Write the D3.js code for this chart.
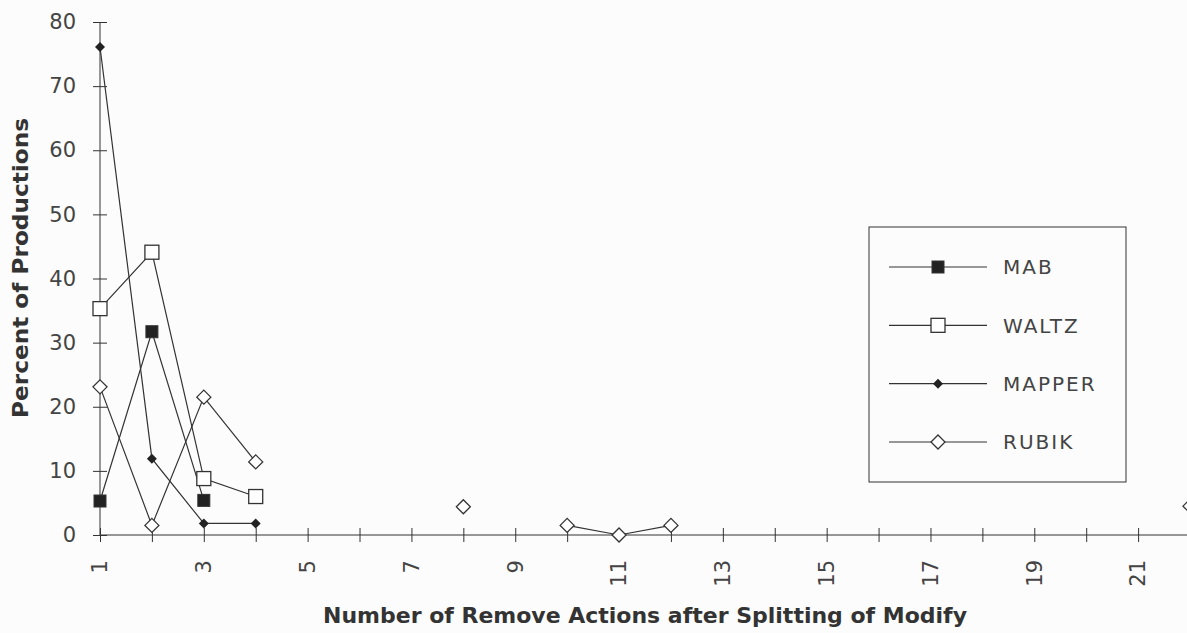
<!DOCTYPE html>
<html>
<head>
<meta charset="utf-8">
<script src="https://cdn.jsdelivr.net/npm/d3@7"></script>
<style>
  body { margin: 0; background: #fcfcfc; }
  svg { display: block; font-family: "DejaVu Sans", sans-serif; }
</style>
</head>
<body>
<svg id="chart" width="1187" height="633"></svg>
<script>
// x categories (number of remove actions)
var xValues = [1, 2, 3, 4, 5, 6, 7, 8, 9, 10, 11, 12, 13, 14, 15, 16, 17, 18, 19, 20, 21, 22];
var xLabels = [1, 3, 5, 7, 9, 11, 13, 15, 17, 19, 21];
var yTicks = [0, 10, 20, 30, 40, 50, 60, 70, 80];

// percent of productions, null = no point
var mab    = [5.3, 31.7, 5.4, null, null, null, null, null, null, null, null, null, null, null, null, null, null, null, null, null, null, null];
var waltz  = [35.3, 44.1, 8.8, 6.0, null, null, null, null, null, null, null, null, null, null, null, null, null, null, null, null, null, null];
var mapper = [76.1, 11.9, 1.8, 1.8, null, null, null, null, null, null, null, null, null, null, null, null, null, null, null, null, null, null];
var rubik  = [23.1, 1.5, 21.5, 11.4, null, null, null, 4.4, null, 1.5, 0, 1.5, null, null, null, null, null, null, null, null, null, 4.5];

var seriesNames = ["MAB", "WALTZ", "MAPPER", "RUBIK"];
var seriesValues = [mab, waltz, mapper, rubik];

var ink = "#333";
var svg = d3.select("#chart");

var x = d3.scaleLinear().domain([1, 22]).range([100, 1190]);
var y = d3.scaleLinear().domain([0, 80]).range([535, 22]);

// axes
var xAxis = svg.append("g")
    .attr("transform", "translate(0," + y(0) + ")")
    .call(d3.axisBottom(x).tickValues(xValues).tickSize(7).tickFormat(""));
xAxis.select(".domain").attr("d", "M" + x(1) + ",0H1187");
xAxis.selectAll(".tick line").attr("y1", -7);
xAxis.selectAll("path, line").attr("stroke", ink).attr("stroke-width", 1);

svg.append("g").selectAll("text")
    .data(xLabels)
  .enter().append("text")
    .attr("transform", function(d) { return "translate(" + x(d) + ",560) rotate(-90)"; })
    .attr("dy", "0.35em")
    .attr("text-anchor", "end")
    .attr("font-size", 21)
    .attr("fill", "#444")
    .text(function(d) { return d; });

var yAxis = svg.append("g")
    .attr("transform", "translate(" + x(1) + ",0)")
    .call(d3.axisLeft(y).tickValues(yTicks).tickSize(7).tickPadding(17));
yAxis.select(".domain").attr("d", "M0," + y(80) + "V" + y(0));
yAxis.selectAll(".tick line").attr("x1", 7);
yAxis.selectAll("path, line").attr("stroke", ink).attr("stroke-width", 1);
yAxis.selectAll("text").attr("font-size", 21).attr("fill", "#444")
    .attr("font-family", "'DejaVu Sans', sans-serif");

// titles
svg.append("text")
    .attr("x", 645).attr("y", 623)
    .attr("text-anchor", "middle")
    .attr("font-size", 21).attr("font-weight", "bold").attr("fill", ink)
    .attr("textLength", 644).attr("lengthAdjust", "spacingAndGlyphs")
    .text("Number of Remove Actions after Splitting of Modify");

svg.append("text")
    .attr("transform", "translate(28,268) rotate(-90)")
    .attr("text-anchor", "middle")
    .attr("font-size", 21).attr("font-weight", "bold").attr("fill", ink)
    .attr("textLength", 300).attr("lengthAdjust", "spacingAndGlyphs")
    .text("Percent of Productions");

// markers
function marker(g, i) {
  if (i === 0) {
    g.append("rect").attr("x", -6).attr("y", -6).attr("width", 12).attr("height", 12)
      .attr("fill", "#222").attr("stroke", ink);
  } else if (i === 1) {
    g.append("rect").attr("x", -7).attr("y", -7).attr("width", 14).attr("height", 14)
      .attr("fill", "#fff").attr("stroke", ink).attr("stroke-width", 1.3);
  } else if (i === 2) {
    g.append("path").attr("d", "M0,-5L5,0L0,5L-5,0Z").attr("fill", "#222");
  } else {
    g.append("path").attr("d", "M0,-7L7,0L0,7L-7,0Z")
      .attr("fill", "#fff").attr("stroke", ink).attr("stroke-width", 1.3);
  }
}

var line = d3.line()
    .defined(function(d) { return d != null; })
    .x(function(d, i) { return x(xValues[i]); })
    .y(function(d) { return y(d); });

seriesValues.forEach(function(vals, i) {
  var g = svg.append("g");
  g.append("path")
    .attr("d", line(vals))
    .attr("fill", "none")
    .attr("stroke", ink)
    .attr("stroke-width", 1.2);
  vals.forEach(function(v, j) {
    if (v == null) return;
    var m = g.append("g").attr("transform", "translate(" + x(xValues[j]) + "," + y(v) + ")");
    marker(m, i);
  });
});

// legend
var legend = svg.append("g").attr("transform", "translate(869,227)");
legend.append("rect")
    .attr("width", 257).attr("height", 255)
    .attr("fill", "#fcfcfc").attr("stroke", ink).attr("stroke-width", 1);

var ly = d3.scalePoint().domain(seriesNames).range([40, 215]);
seriesNames.forEach(function(name, i) {
  var row = legend.append("g").attr("transform", "translate(0," + ly(name) + ")");
  row.append("line").attr("x1", 20).attr("x2", 118)
    .attr("stroke", ink).attr("stroke-width", 1.2);
  var m = row.append("g").attr("transform", "translate(69,0)");
  marker(m, i);
  row.append("text")
    .attr("x", 134).attr("dy", "0.36em")
    .attr("font-size", 20).attr("letter-spacing", 2).attr("fill", "#444")
    .text(name);
});
</script>
</body>
</html>
